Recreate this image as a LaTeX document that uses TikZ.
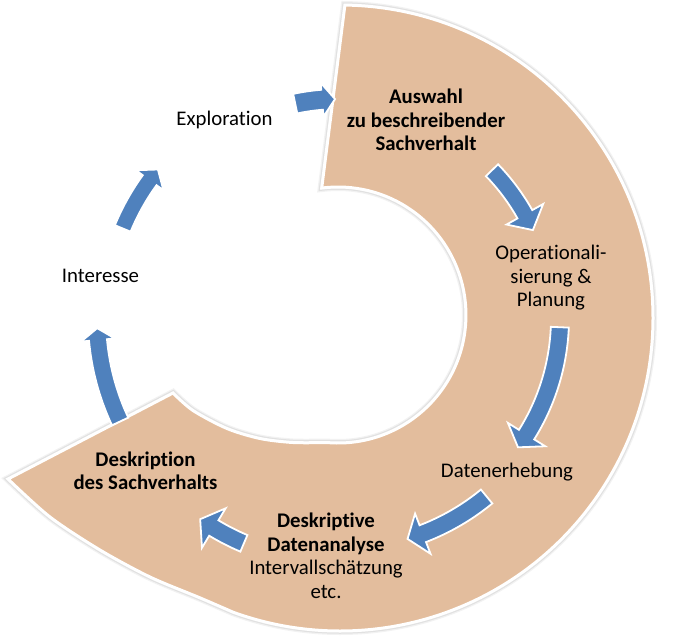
\documentclass[tikz,border=0pt]{standalone}
\usepackage{fontspec}
\setmainfont{Carlito}[Ligatures=NoCommon]
\usetikzlibrary{calc}
\definecolor{ringtan}{RGB}{227,189,157}
\definecolor{arrowblue}{RGB}{79,129,189}
% #1 radius, #2 tail angle, #3 head base angle, #4 tip angle, #5 body half width, #6 head half width
\newcommand\cycarrow[6]{%
  \path[cycarrowstyle] ($(C)+(#2:{#1pt+#5pt})$)
    arc[start angle=#2, end angle=#3, radius={#1pt+#5pt}]
    -- ($(C)+(#3:{#1pt+#6pt})$)
    -- ($(C)+(#4:{#1pt})$)
    -- ($(C)+(#3:{#1pt-#6pt})$)
    -- ($(C)+(#3:{#1pt-#5pt})$)
    arc[start angle=#3, end angle=#2, radius={#1pt-#5pt}]
    -- cycle;}
\tikzset{
  cycarrowstyle/.style={fill=arrowblue, draw=white, line width=1.8pt, line join=miter},
  ringstyle/.style={
    preaction={draw=black, opacity=0.05, line width=8pt},
    preaction={draw=black, opacity=0.07, line width=5.5pt},
    fill=ringtan, draw=white, line width=3pt, line join=miter},
  txt/.style={font=\fontsize{20.8}{23.4}\selectfont, inner sep=0pt, align=center, text=black},
  txtb/.style={txt, font=\fontsize{20.8}{23.4}\selectfont\bfseries}
}
\begin{document}
\begin{tikzpicture}[x=1pt, y=1pt]
\useasboundingbox (0,0) rectangle (692,-641);
\coordinate (C) at (340,-318);
\coordinate (C2) at (338,-315);

% ring
\path[ringstyle] ($(C)+(89.1:313pt)$)
  arc[start angle=89.1, end angle=-110, radius=313pt]
  -- plot[smooth] coordinates {(232.9,-612.1) (199.4,-597.6) (150,-577) (100,-550) (50,-517) (8,-479)}
  -- (173,-393)
  -- plot[smooth] coordinates {(173,-393) (193,-410.5) (227,-428.5) (260,-438.5) (293,-442.5) (326.8,-442.5)}
  arc[start angle=-95, end angle=97.3, radius=128pt]
  -- cycle;

% arrows
\cycarrow{219}{101.8}{94.7}{91.3}{10}{17}
\cycarrow{212}{44.2}{29.3}{24.5}{8.5}{21}
\cycarrow{220}{-2.4}{-32}{-36}{9}{22}
\cycarrow{231}{-50.6}{-69}{-73}{9}{21.5}
\cycarrow{245}{-113.1}{-121}{-124.8}{9}{23}
\cycarrow{243}{-154.8}{-174.8}{-177.6}{9}{17}
\cycarrow{235}{157.6}{144.1}{140.8}{8.5}{17}

% texts (base anchor = baseline of the last line)
\node[txt, anchor=base] (expl) at (224.5,-125.7) {Exploration};
\node[txtb, anchor=base] (ausw) at (426,-150.5) {Auswahl\\zu beschreibender\\Sachverhalt};
\node[txt, anchor=base] (oper) at (551,-306.5) {Operationali-\\sierung \&\\Planung};
\node[txt, anchor=base] (daten) at (507,-477) {Datenerhebung};
\node[txt, anchor=base] (deskana) at (326,-598) {\textbf{Deskriptive}\\\textbf{Datenanalyse}\\Intervallschätzung\\etc.};
\node[txtb, anchor=base] (deskr) at (145.5,-489.5) {Deskription\\des Sachverhalts};
\node[txt, anchor=base] (inter) at (100.5,-282) {Interesse};
\end{tikzpicture}
\end{document}
